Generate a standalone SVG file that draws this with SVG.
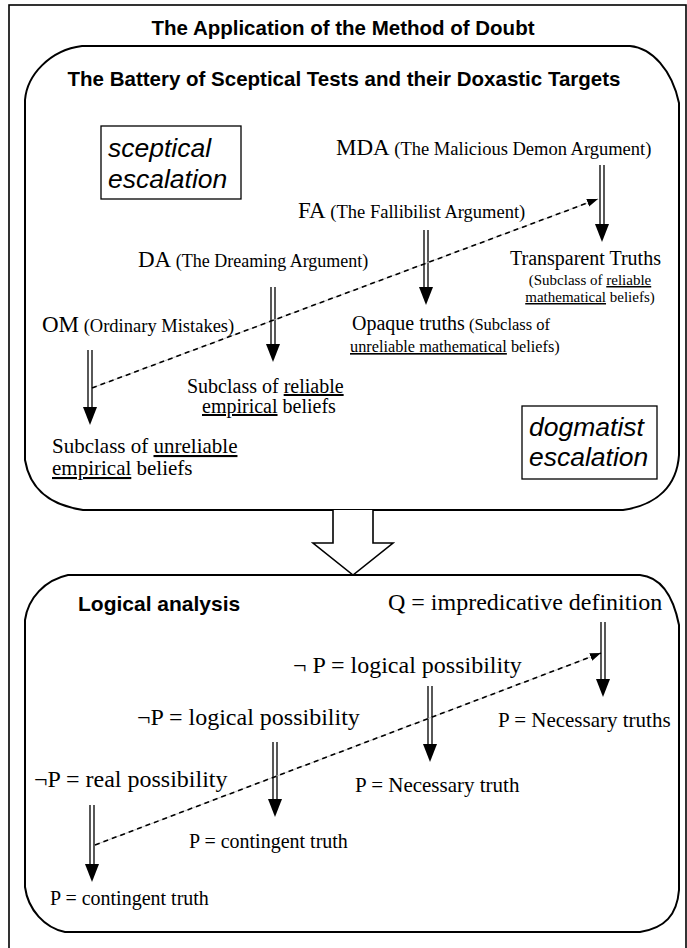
<svg xmlns="http://www.w3.org/2000/svg" width="687" height="948" viewBox="0 0 687 948">
<style>
.frame{fill:none;stroke:#000;stroke-width:1.6}
.box{fill:none;stroke:#000;stroke-width:2}
.tag{fill:none;stroke:#000;stroke-width:1.3}
.hd{font-family:"Liberation Sans",Arial,sans-serif;font-weight:bold;fill:#000}
.it{font-family:"Liberation Sans",Arial,sans-serif;font-style:italic;font-size:26.5px;fill:#000}
.tm{font-family:"Liberation Serif","Times New Roman",serif;fill:#000}
.sh{stroke:#000;stroke-width:1.3;fill:none}
.hdf{fill:#000;stroke:none}
.dg{stroke:#bbb;stroke-width:0.8;fill:none}
.dl{stroke:#000;stroke-width:1.6;stroke-dasharray:5 4;fill:none}
.u{text-decoration:underline}
</style>
<defs>
<marker id="ah" markerUnits="userSpaceOnUse" markerWidth="12" markerHeight="10" refX="11" refY="4" orient="auto">
<path d="M0,0 L11,4 L0,8 z" fill="#000"/>
</marker>
</defs>
<rect width="687" height="948" fill="#fff"/>
<rect class="frame" x="9" y="5" width="677" height="960"/>
<text class="hd" x="343" y="35" font-size="20.5" text-anchor="middle">The Application of the Method of Doubt</text>

<g id="box-battery">
<path class="box" d="M82,46 L630,46 C652,48 672,70 679,103 L679,455 C677,485 658,505 623,510 L83,510 C50,505 30,490 25,460 L25,100 C27,75 50,50 82,46 Z"/>
<text class="hd" x="344" y="86" font-size="20.5" text-anchor="middle">The Battery of Sceptical Tests and their Doxastic Targets</text>
</g>

<g id="sceptical-escalation">
<rect class="tag" x="101" y="126" width="140" height="73"/>
<text class="it" x="108" y="157">sceptical</text>
<text class="it" x="108" y="188">escalation</text>
</g>

<g id="dogmatist-escalation">
<rect class="tag" x="522" y="406" width="135" height="73"/>
<text class="it" x="529" y="436">dogmatist</text>
<text class="it" x="529" y="466">escalation</text>
</g>

<g id="MDA"><text class="tm" x="336" y="155"><tspan font-size="23">MDA</tspan><tspan font-size="18.5"> (The Malicious Demon Argument)</tspan></text></g>
<g id="FA"><text class="tm" x="298" y="218"><tspan font-size="23">FA</tspan><tspan font-size="18.5"> (The Fallibilist Argument)</tspan></text></g>
<g id="DA"><text class="tm" x="138" y="267"><tspan font-size="23">DA</tspan><tspan font-size="18"> (The Dreaming Argument)</tspan></text></g>
<g id="OM"><text class="tm" x="42" y="332"><tspan font-size="23">OM</tspan><tspan font-size="18.5"> (Ordinary Mistakes)</tspan></text></g>

<g id="transparent-truths">
<text class="tm" x="510" y="265" font-size="20">Transparent Truths</text>
<text class="tm" x="590" y="285" font-size="15" text-anchor="middle">(Subclass of <tspan class="u">reliable</tspan></text>
<text class="tm" x="590" y="302" font-size="15" text-anchor="middle"><tspan class="u">mathematical</tspan> beliefs)</text>
</g>

<g id="opaque-truths">
<text class="tm" x="352" y="330"><tspan font-size="20">Opaque truths</tspan><tspan font-size="16.5"> (Subclass of</tspan></text>
<text class="tm" x="350" y="352" font-size="16.3"><tspan class="u">unreliable mathematical</tspan> beliefs)</text>
</g>

<g id="reliable-empirical">
<text class="tm" x="187" y="393" font-size="20">Subclass of <tspan class="u">reliable</tspan></text>
<text class="tm" x="202" y="413" font-size="20"><tspan class="u">empirical</tspan> beliefs</text>
</g>

<g id="unreliable-empirical">
<text class="tm" x="52" y="453" font-size="21">Subclass of <tspan class="u">unreliable</tspan></text>
<text class="tm" x="52" y="475" font-size="21"><tspan class="u">empirical</tspan> beliefs</text>
</g>

<g id="box-logical">
<path class="box" d="M68,575 L640,575 C660,577 673,595 679,625 L679,890 C677,915 665,928 640,932 L65,932 C45,928 28,910 25,887 L25,620 C28,598 45,580 68,575 Z"/>
<text class="hd" x="78" y="611" font-size="21">Logical analysis</text>
</g>

<g id="Q"><text class="tm" x="388" y="610" font-size="24">Q = impredicative definition</text></g>
<g id="notP-logical-1"><text class="tm" x="293" y="673" font-size="24">¬ P = logical possibility</text></g>
<g id="P-necessary-truths"><text class="tm" x="498" y="727" font-size="21">P = Necessary truths</text></g>
<g id="notP-logical-2"><text class="tm" x="137" y="725" font-size="24">¬P = logical possibility</text></g>
<g id="notP-real"><text class="tm" x="34" y="787" font-size="24">¬P = real possibility</text></g>
<g id="P-necessary-truth"><text class="tm" x="355" y="792" font-size="21">P = Necessary truth</text></g>
<g id="P-contingent-1"><text class="tm" x="189" y="848" font-size="20">P = contingent truth</text></g>
<g id="P-contingent-2"><text class="tm" x="50" y="905" font-size="20">P = contingent truth</text></g>

<g id="connectors">
<path class="sh" d="M600,165 V225 M604,165 V225"/><path class="hdf" d="M595,224 H609 L602,242 Z"/>
<path class="sh" d="M424,230 V288 M428,230 V288"/><path class="hdf" d="M419,287 H433 L426,305 Z"/>
<path class="sh" d="M271,287 V345 M275,287 V345"/><path class="hdf" d="M266,344 H280 L273,362 Z"/>
<path class="sh" d="M88,350 V408 M92,350 V408"/><path class="hdf" d="M83,407 H97 L90,425 Z"/>
<path class="dg" d="M92,388 L598,199"/>
<path class="dl" d="M92,388 L598,199" marker-end="url(#ah)"/>
<path d="M333,510 V543 H313 L353,575 L393,543 H373 V510" fill="#fff" stroke="#000" stroke-width="1.6"/>
<path class="sh" d="M601,622 V680 M605,622 V680"/><path class="hdf" d="M596,679 H610 L603,697 Z"/>
<path class="sh" d="M428,686 V745 M432,686 V745"/><path class="hdf" d="M423,744 H437 L430,762 Z"/>
<path class="sh" d="M273,742 V800 M277,742 V800"/><path class="hdf" d="M268,799 H282 L275,817 Z"/>
<path class="sh" d="M90,805 V865 M94,805 V865"/><path class="hdf" d="M85,864 H99 L92,882 Z"/>
<path class="dg" d="M95,845 L601,653"/>
<path class="dl" d="M95,845 L601,653" marker-end="url(#ah)"/>
</g>
</svg>
